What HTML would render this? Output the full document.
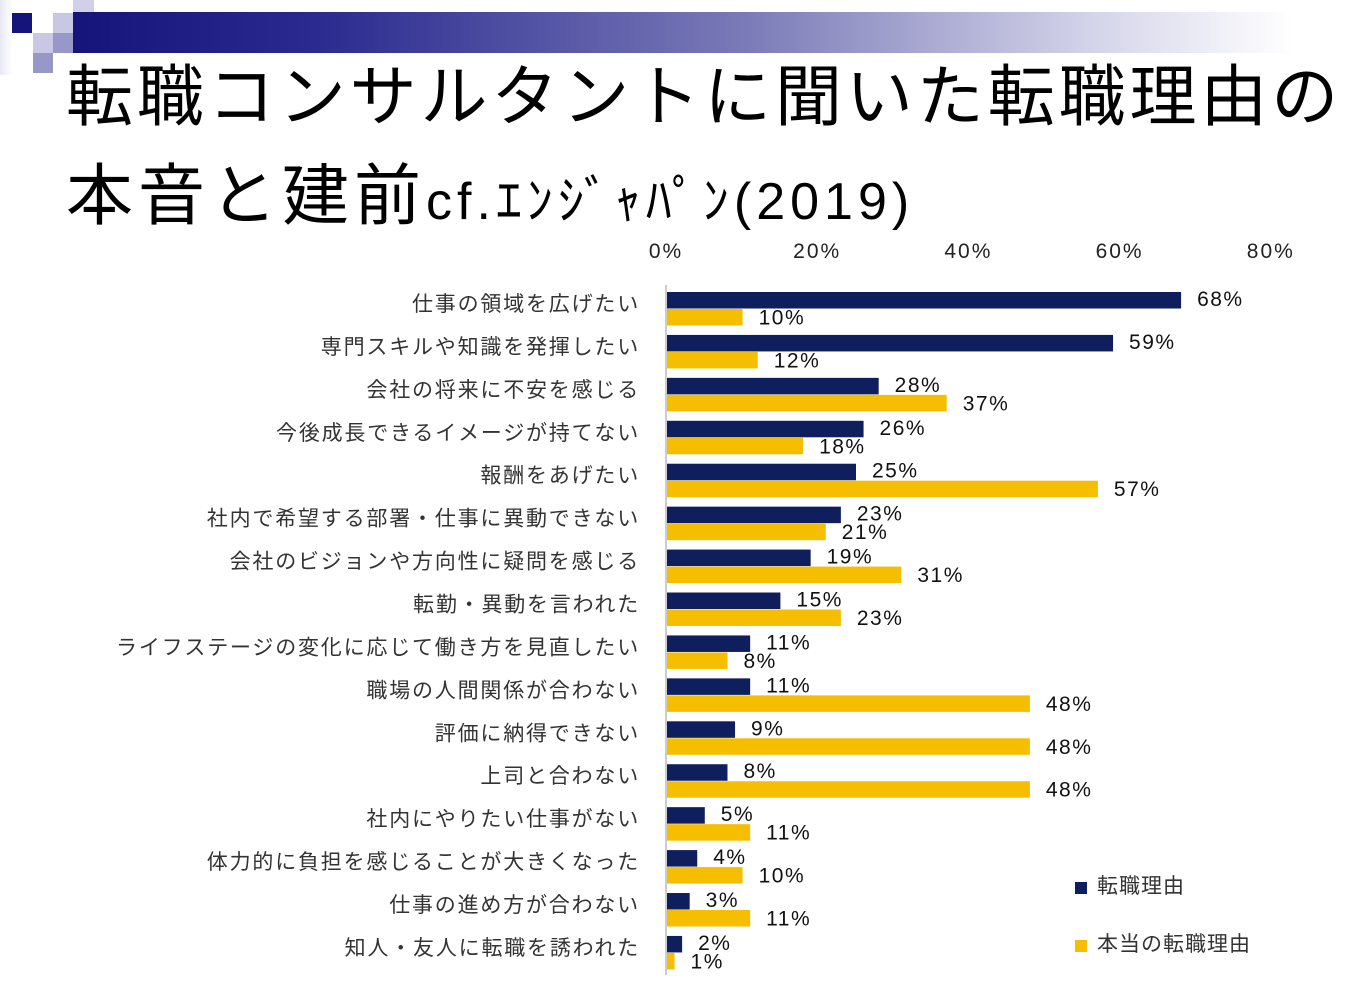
<!DOCTYPE html>
<html><head><meta charset="utf-8">
<style>
body{margin:0;width:1360px;height:991px;background:#fff;overflow:hidden;position:relative;font-family:"Liberation Sans","Noto Sans CJK JP",sans-serif;}
.sq{position:absolute;}
#banner{position:absolute;left:73px;top:12px;width:1220px;height:41px;background:linear-gradient(90deg,#14147a 0%,#2a2a90 20%,#7a7ab8 55%,#d8d8ec 85%,#fff 100%);}
.t{position:absolute;color:#000;font-family:"Liberation Sans","Noto Sans CJK JP",sans-serif;white-space:nowrap;}
</style></head><body>
<div class="sq" style="left:12px;top:13px;width:20px;height:20px;background:#14147a"></div>
<div class="sq" style="left:53px;top:13px;width:20px;height:20px;background:#c8c8e4"></div>
<div class="sq" style="left:73px;top:0px;width:21px;height:13px;background:#d0d0e8"></div>
<div class="sq" style="left:73px;top:13px;width:21px;height:20px;background:#9898c8"></div>
<div class="sq" style="left:33px;top:33px;width:20px;height:20px;background:#c8c8e4"></div>
<div class="sq" style="left:53px;top:33px;width:20px;height:20px;background:#9898c8"></div>
<div class="sq" style="left:33px;top:53px;width:20px;height:20px;background:#9898c8"></div>
<div class="sq" style="left:0;top:0;width:12px;height:75px;background:linear-gradient(90deg,#e8e8f4,#fff)"></div>
<div id="banner"></div>
<div class="t" style="left:66px;top:58px;font-size:67px;line-height:80px;letter-spacing:3.9px">転職コンサルタントに聞いた転職理由の</div>
<div class="t" style="left:66px;top:157px;font-size:67px;line-height:80px;letter-spacing:5px">本音と建前<span style="font-size:52px;letter-spacing:5px">cf.ｴﾝｼﾞｬﾊﾟﾝ(2019)</span></div>
<svg id="chart" width="1360" height="991" style="position:absolute;left:0;top:0"></svg>
<script>
const categories=["仕事の領域を広げたい","専門スキルや知識を発揮したい","会社の将来に不安を感じる","今後成長できるイメージが持てない","報酬をあげたい","社内で希望する部署・仕事に異動できない","会社のビジョンや方向性に疑問を感じる","転勤・異動を言われた","ライフステージの変化に応じて働き方を見直したい","職場の人間関係が合わない","評価に納得できない","上司と合わない","社内にやりたい仕事がない","体力的に負担を感じることが大きくなった","仕事の進め方が合わない","知人・友人に転職を誘われた"];
const statedReasons=[68,59,28,26,25,23,19,15,11,11,9,8,5,4,3,2];
const trueReasons=[10,12,37,18,57,21,31,23,8,48,48,48,11,10,11,1];
const ticks=[0,20,40,60,80];
const NS="http://www.w3.org/2000/svg";
const svg=document.getElementById('chart');
const x0=667,pxPer=7.56,rowTop=292,pitch=42.93,bh=16.5;
const xs=v=>x0+v*pxPer;
function el(tag,attrs,txt){const e=document.createElementNS(NS,tag);for(const k in attrs)e.setAttribute(k,attrs[k]);if(txt!==undefined)e.textContent=txt;svg.appendChild(e);return e;}
ticks.forEach(t=>{const e=el('text',{x:xs(t)-1,y:258,'text-anchor':'middle','font-size':21,'letter-spacing':2,fill:'#222','font-family':'Liberation Sans, sans-serif'},t+'%');

});
const ax=el('line',{x1:666,y1:285,x2:666,y2:975,stroke:'#bbb','stroke-width':1.5});


categories.forEach((c,i)=>{
 const y=rowTop+i*pitch;
 const lb=el('text',{x:640,y:y+19,'text-anchor':'end','font-size':21,'letter-spacing':1.8,fill:'#333','font-family':'Liberation Sans, Noto Sans CJK JP, sans-serif'},c);
 
 
 const b1=el('rect',{x:x0,y:y,width:statedReasons[i]*pxPer,height:bh,fill:'#0f1e5c'});
 
 
 const b2=el('rect',{x:x0,y:y+bh+0.5,width:trueReasons[i]*pxPer,height:bh,fill:'#f5bf00'});
 
 
 const v1=el('text',{x:xs(statedReasons[i])+16,y:y+14,'font-size':21,'letter-spacing':1.5,fill:'#111','font-family':'Liberation Sans, sans-serif'},statedReasons[i]+'%');
 
 
 const v2=el('text',{x:xs(trueReasons[i])+16,y:y+bh+16,'font-size':21,'letter-spacing':1.5,fill:'#111','font-family':'Liberation Sans, sans-serif'},trueReasons[i]+'%');
 
 
});
const l1=el('rect',{x:1075,y:882,width:12,height:12,fill:'#0f1e5c'});


const l1t=el('text',{x:1097,y:893,'font-size':21,'letter-spacing':1,fill:'#333','font-family':'Liberation Sans, Noto Sans CJK JP, sans-serif'},'転職理由');


const l2=el('rect',{x:1075,y:940,width:12,height:12,fill:'#f5bf00'});


const l2t=el('text',{x:1097,y:951,'font-size':21,'letter-spacing':1,fill:'#333','font-family':'Liberation Sans, Noto Sans CJK JP, sans-serif'},'本当の転職理由');


</script>
</body></html>
